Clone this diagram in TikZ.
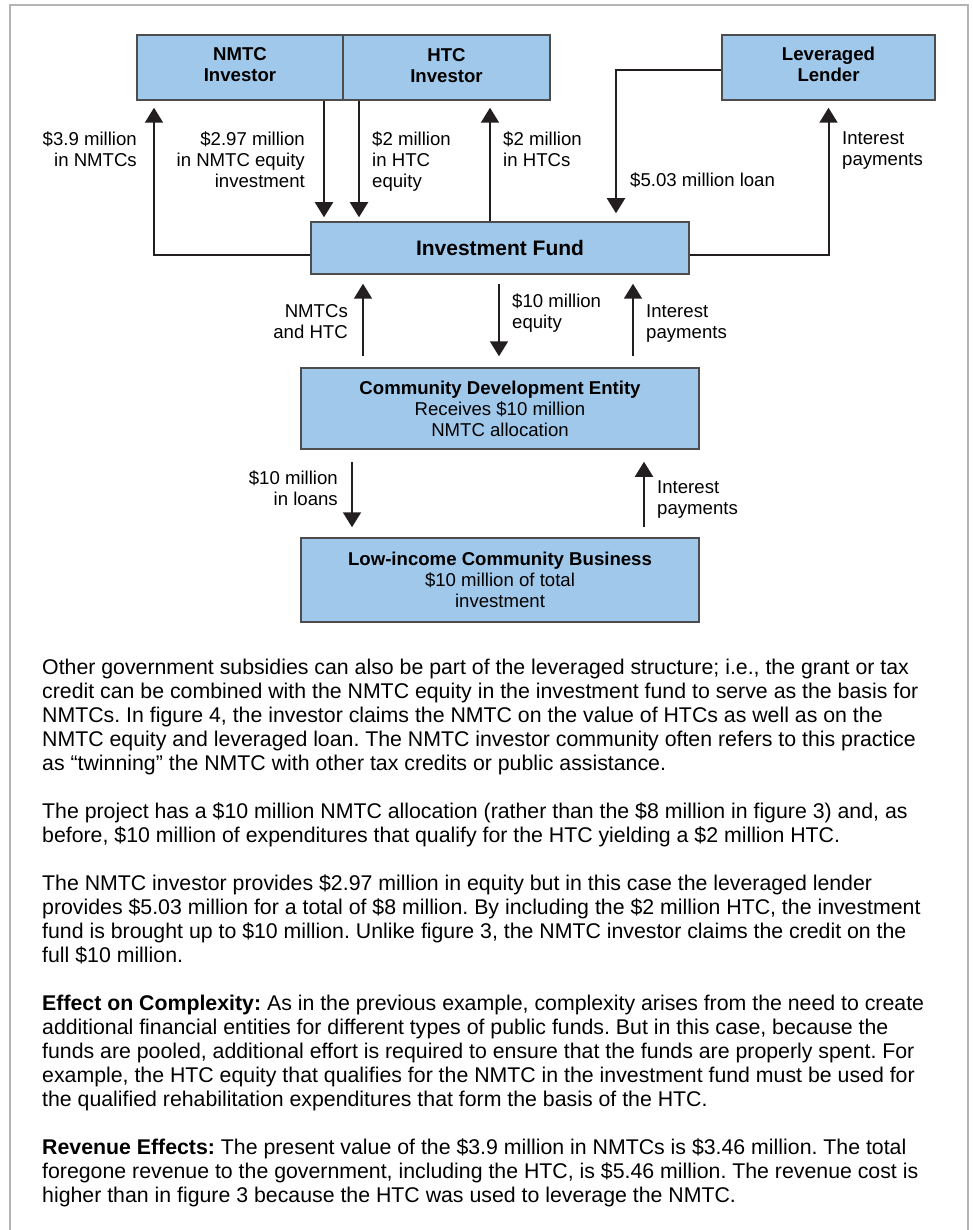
\documentclass[tikz,border=0pt]{standalone}
\usepackage{fontspec}
\setmainfont{Liberation Sans}
\usetikzlibrary{arrows.meta}
\definecolor{boxfill}{HTML}{A0C8EA}
\definecolor{boxline}{HTML}{4D4D4F}
\definecolor{flowline}{HTML}{231F20}
\definecolor{frameline}{HTML}{B4B4B4}

\begin{document}
\begin{tikzpicture}[x=1pt, y=-1pt,
    box/.style={draw=boxline, fill=boxfill, line width=1.5pt, inner sep=0pt, align=center, font=\fontsize{18.6}{21}\selectfont},
    flow/.style={draw=flowline, line width=2pt, -{Triangle[width=18pt,length=15pt]}},
    lblr/.style={anchor=north east, align=right, inner sep=0pt, font=\fontsize{18.6}{21}\selectfont, execute at begin node=\strut},
    lbll/.style={anchor=north west, align=left, inner sep=0pt, font=\fontsize{18.6}{21}\selectfont, execute at begin node=\strut},
    para/.style={anchor=north west, align=left, inner sep=0pt, font=\fontsize{21.3}{24}\selectfont\frenchspacing, execute at begin node=\strut}]
            \useasboundingbox (0,0) rectangle (972,1230);
            \draw[frameline, line width=1.5pt] (10,1230) -- (10,5) -- (968,5) -- (968,1230);
            
            % Investors and lender
            \node[box, minimum width=206pt, minimum height=65pt, text depth=6pt] (nmtc) at (240,67.5) {\textbf{NMTC}\\\textbf{Investor}};
            \node[box, minimum width=207pt, minimum height=65pt, text depth=4pt] (htc) at (446.5,67.5) {\textbf{HTC}\\\textbf{Investor}};
            \node[box, minimum width=213pt, minimum height=65pt, text depth=6pt] (lender) at (828.5,67.5) {\textbf{Leveraged}\\\textbf{Lender}};
            
            % Fund, CDE and business
            \node[box, minimum width=378pt, minimum height=52pt, font=\fontsize{21}{24}\selectfont\bfseries] (fund) at (500,248) {Investment Fund};
            \node[box, minimum width=398pt, minimum height=81pt] (cde) at (500,408.5) {\textbf{Community Development Entity}\\Receives \$10 million\\NMTC allocation};
            \node[box, minimum width=398pt, minimum height=84pt] (licb) at (500,580) {\textbf{Low-income Community Business}\\\$10 million of total\\investment};
            
            % Flows between fund and investors
            \draw[flow, shorten >=7pt] ([yshift=-7pt]fund.west) -| (nmtc.south -| 154,0);
            \draw[flow, shorten >=4pt] (nmtc.south -| 324,0) -- (fund.north -| 324,0);
            \draw[flow, shorten >=4pt] (htc.south -| 359,0) -- (fund.north -| 359,0);
            \draw[flow, shorten >=7pt] (fund.north -| 490,0) -- (htc.south -| 490,0);
            \draw[flow, shorten >=8pt] ([yshift=-2.5pt]lender.west) -| (fund.north -| 616,0);
            \draw[flow, shorten >=7pt] ([yshift=-7pt]fund.east) -| (lender.south);
            
            \node[lblr] (l39) at (137,131.3) {\$3.9 million\\in NMTCs};
            \node[lblr] (l297) at (305,131.3) {\$2.97 million\\in NMTC equity\\investment};
            \node[lbll] (l2htc) at (372,131.3) {\$2 million\\in HTC\\equity};
            \node[lbll] (l2htcs) at (503,131.3) {\$2 million\\in HTCs};
            \node[lbll] (lloan) at (630,171.3) {\$5.03 million loan};
            \node[lbll] (lint1) at (842,131.3) {Interest\\payments};
            
            % Flows between fund and CDE
            \draw[flow, shorten <=11pt, shorten >=9pt] (cde.north -| 363,0) -- (fund.south -| 363,0);
            \draw[flow, shorten <=9pt, shorten >=11pt] (fund.south -| 499,0) -- (cde.north -| 499,0);
            \draw[flow, shorten <=11pt, shorten >=9pt] (cde.north -| 633,0) -- (fund.south -| 633,0);
            
            \node[lblr] (lcred) at (348,304.3) {NMTCs\\and HTC};
            \node[lbll] (l10eq) at (512,293.3) {\$10 million\\equity};
            \node[lbll] (lint2) at (646,304.3) {Interest\\payments};
            
            % Flows between CDE and business
            \draw[flow, shorten <=12pt, shorten >=10pt] (cde.south -| 352,0) -- (licb.north -| 352,0);
            \draw[flow, shorten <=10pt, shorten >=12pt] (licb.north -| 644,0) -- (cde.south -| 644,0);
            
            \node[lblr] (l10loan) at (338,470.3) {\$10 million\\in loans};
            \node[lbll] (lint3) at (657,480.3) {Interest\\payments};
            
            % Text below the chart
            \node[para] (p1) at (42,658.7) {Other government subsidies can also be part of the leveraged structure; i.e., the grant or tax\\
                credit can be combined with the NMTC equity in the investment fund to serve as the basis for\\
                NMTCs. In figure 4, the investor claims the NMTC on the value of HTCs as well as on the\\
                NMTC equity and leveraged loan. The NMTC investor community often refers to this practice\\
                as “twinning” the NMTC with other tax credits or public assistance.};
            \node[para] (p2) at (42,802.7) {The project has a \$10 million NMTC allocation (rather than the \$8 million in figure 3) and, as\\
                before, \$10 million of expenditures that qualify for the HTC yielding a \$2 million HTC.};
            \node[para] (p3) at (42,874.7) {The NMTC investor provides \$2.97 million in equity but in this case the leveraged lender\\
                provides \$5.03 million for a total of \$8 million. By including the \$2 million HTC, the investment\\
                fund is brought up to \$10 million. Unlike figure 3, the NMTC investor claims the credit on the\\
                full \$10 million.};
            \node[para] (p4) at (42,994.7) {\textbf{Effect on Complexity:} As in the previous example, complexity arises from the need to create\\
                additional financial entities for different types of public funds. But in this case, because the\\
                funds are pooled, additional effort is required to ensure that the funds are properly spent. For\\
                example, the HTC equity that qualifies for the NMTC in the investment fund must be used for\\
                the qualified rehabilitation expenditures that form the basis of the HTC.};
            \node[para] (p5) at (42,1138.7) {\textbf{Revenue Effects:} The present value of the \$3.9 million in NMTCs is \$3.46 million. The total\\
                foregone revenue to the government, including the HTC, is \$5.46 million. The revenue cost is\\
                higher than in figure 3 because the HTC was used to leverage the NMTC.};
\end{tikzpicture}
\end{document}
